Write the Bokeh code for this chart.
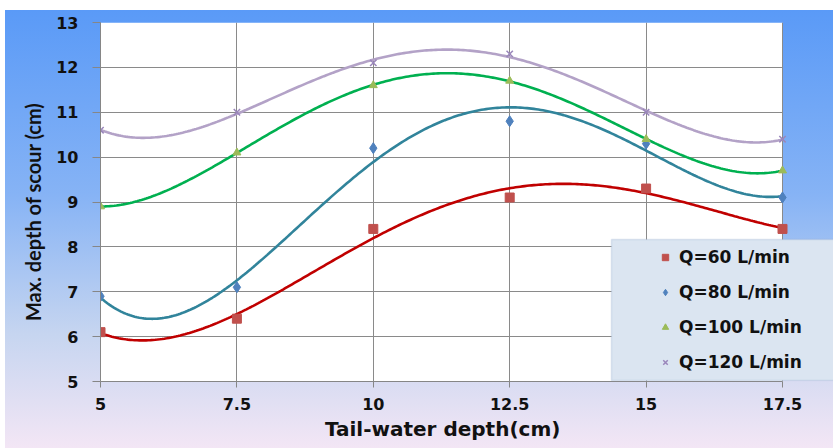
import numpy as np
from bokeh.plotting import figure
from bokeh.models import Range1d, FixedTicker, Legend, LegendItem, BoxAnnotation
from bokeh.embed import file_html
from bokeh.resources import INLINE

# Measured maximum scour depth (cm) for each tail-water depth (cm)
depth = [5, 7.5, 10, 12.5, 15, 17.5]
scour_q60 = [6.1, 6.4, 8.4, 9.1, 9.3, 8.4]
scour_q80 = [6.9, 7.1, 10.2, 10.8, 10.3, 9.1]
scour_q100 = [8.9, 10.1, 11.6, 11.7, 10.4, 9.7]
scour_q120 = [10.6, 11.0, 12.1, 12.3, 11.0, 10.4]
series_labels = ["Q=60 L/min", "Q=80 L/min", "Q=100 L/min", "Q=120 L/min"]

x_ticks = [5, 7.5, 10, 12.5, 15, 17.5]
x_tick_labels = ["5", "7.5", "10", "12.5", "15", "17.5"]
y_ticks = [5, 6, 7, 8, 9, 10, 11, 12, 13]
x_min, x_max = 5, 17.5
y_min, y_max = 5, 13

TICK_FONT = "DejaVu Sans"
NBSP = "\u00a0"

# The frame runs to the right edge of the page so the legend panel can hang
# past the end of the plotting area; the white plot area covers x_min..x_max.
px_per_unit = 682 / (x_max - x_min)
x_view_end = x_min + 733 / px_per_unit

p = figure(width=833, height=448, output_backend="svg", toolbar_location=None,
           x_range=Range1d(x_min, x_view_end), y_range=Range1d(y_min, y_max),
           min_border_left=100, min_border_right=0,
           min_border_top=22, min_border_bottom=67)

# page background: white strip, then a blue-to-lavender wash behind the chart
p.styles = {"background": "linear-gradient(to bottom, #5a9af7 0%, #86b3f5 42%, "
                          "#c6d5f0 74%, #f3e6f5 100%) 5px 10px / 828px 438px no-repeat, #ffffff"}
p.border_fill_alpha = 0
p.background_fill_alpha = 0
p.outline_line_color = None

plot_area = BoxAnnotation(left=x_min, right=x_max, fill_color="#ffffff", fill_alpha=1,
                          line_color=None, level="image")
p.add_layout(plot_area)

# axes
p.xaxis.ticker = FixedTicker(ticks=x_ticks)
p.yaxis.ticker = FixedTicker(ticks=y_ticks)
p.xaxis.bounds = (x_min, x_max)
p.xaxis.major_label_overrides = {t: s for t, s in zip(x_ticks, x_tick_labels)}
for ax in (p.xaxis[0], p.yaxis[0]):
    ax.axis_line_color = "#868686"
    ax.major_tick_line_color = "#868686"
    ax.minor_tick_line_color = None
    ax.major_tick_in = 0
    ax.major_label_text_font = TICK_FONT
    ax.major_label_text_font_style = "bold"
    ax.major_label_text_font_size = "16px"
    ax.major_label_text_color = "#111111"
    ax.axis_label_text_font_style = "bold"
    ax.axis_label_text_color = "#111111"
p.xaxis.major_tick_out = 6
p.yaxis.major_tick_out = 8
p.xaxis.major_label_standoff = 10
p.yaxis.major_label_standoff = 14
# trailing no-break spaces keep the title centred under the white plot area
p.xaxis.axis_label = "Tail-water depth(cm)" + NBSP * 7
p.xaxis.axis_label_text_font = "DejaVu Sans"
p.xaxis.axis_label_text_font_size = "20px"
p.xaxis.axis_label_standoff = 4
p.yaxis.axis_label = "Max. depth of scour (cm)" + NBSP * 4
p.yaxis.axis_label_text_font = "Lato"
p.yaxis.axis_label_text_font_size = "20px"
p.yaxis.axis_label_standoff = 8

p.xgrid.ticker = FixedTicker(ticks=x_ticks)
p.ygrid.ticker = FixedTicker(ticks=y_ticks)
p.ygrid.cross_bounds = (x_min, x_max)
for g in (p.xgrid[0], p.ygrid[0]):
    g.grid_line_color = "#8a8a8a"
    g.grid_line_width = 1

# series styling: trendline colour, marker type, marker colour, marker size
series = [
    (scour_q60, "#c00000", "square", "#c0504d", 9),
    (scour_q80, "#31849b", "diamond", "#4f81bd", 11),
    (scour_q100, "#00b050", "triangle", "#9bbb59", 8),
    (scour_q120, "#b3a2c7", "x", "#9a86bb", 9),
]

x_fine = np.linspace(x_min, x_max, 300)
items = []
for (vals, line_col, marker, mark_col, size), label in zip(series, series_labels):
    # 4th-order polynomial trendline through the measurements
    coef = np.polyfit(depth, vals, 4)
    p.line(x_fine, np.polyval(coef, x_fine), line_color=line_col, line_width=2.6)
for (vals, line_col, marker, mark_col, size), label in zip(series, series_labels):
    r = p.scatter(depth, vals, marker=marker, size=size, fill_color=mark_col,
                  line_color=mark_col, line_width=1.5 if marker == "x" else 1)
    items.append(LegendItem(label=label, renderers=[r]))

# legend panel
box = BoxAnnotation(left=511, right=745, bottom=1, top=142,
                    left_units="screen", right_units="screen",
                    top_units="screen", bottom_units="screen",
                    fill_color="#dbe5f1", fill_alpha=1,
                    line_color="#9bb0cf", line_width=1.5)
p.add_layout(box)

legend = Legend(items=items, location=(549, 1), padding=8, spacing=15,
                glyph_width=16, glyph_height=20, label_height=20, label_standoff=6,
                label_text_font="DejaVu Sans", label_text_font_style="bold",
                label_text_font_size="17px", label_text_color="#111111",
                background_fill_alpha=0, border_line_alpha=0)
p.add_layout(legend)

open("out.html", "w").write(file_html(p, INLINE))
